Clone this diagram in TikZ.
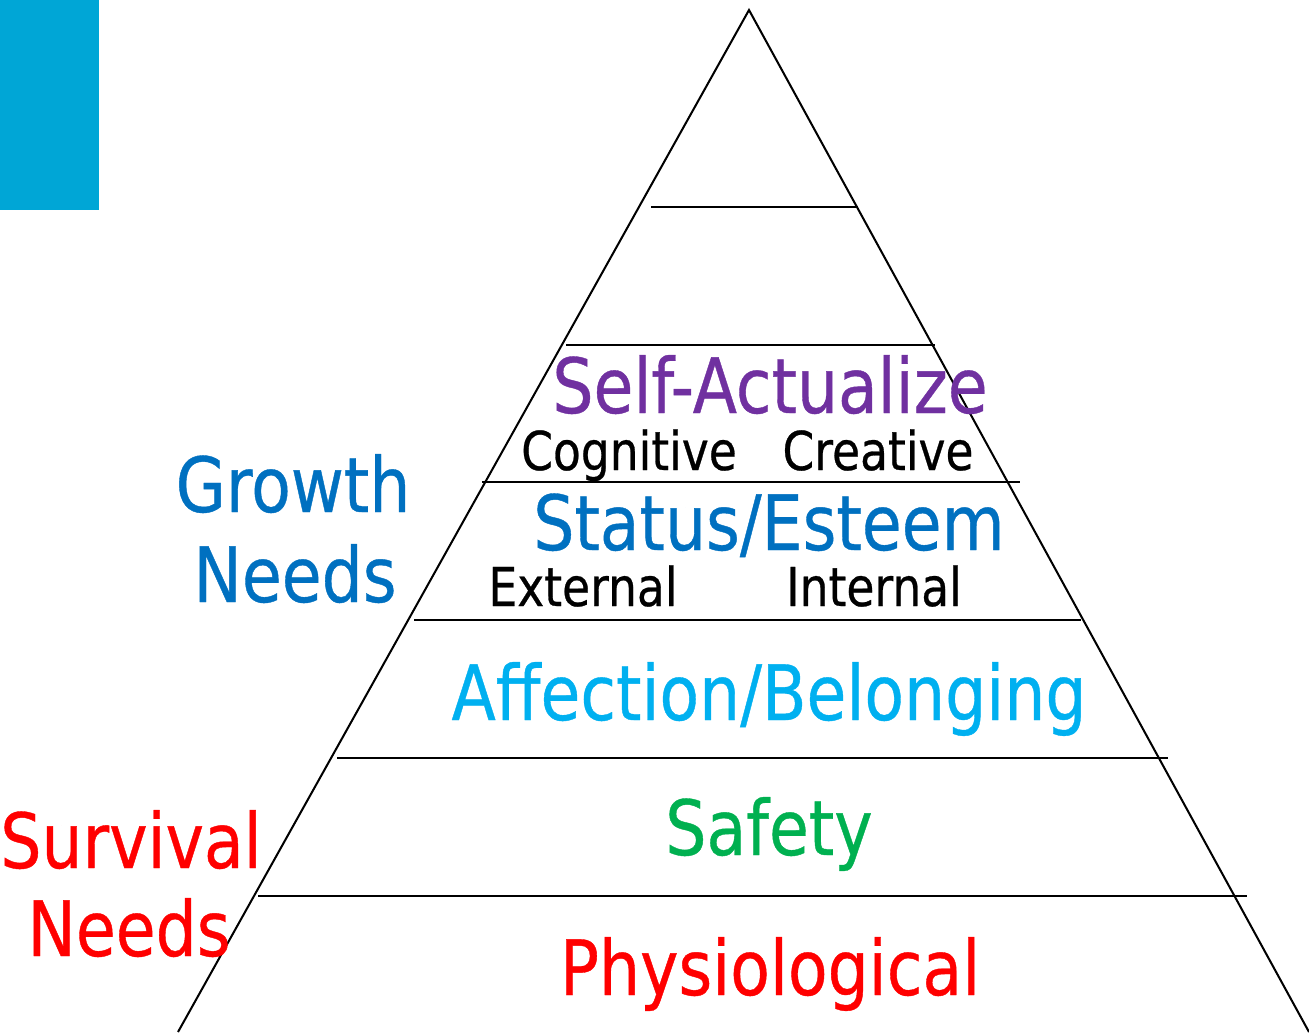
\documentclass[tikz,border=0pt]{standalone}
\usepackage{fontspec}
\setmainfont{DejaVu Sans}[FakeStretch=0.85,FakeBold=0.5]
\usepackage{tikz}
\usetikzlibrary{positioning}
\definecolor{tabblue}{RGB}{0,166,214}
\definecolor{selfpurple}{RGB}{112,48,160}
\definecolor{esteemblue}{RGB}{0,112,192}
\definecolor{affblue}{RGB}{0,176,240}
\definecolor{safegreen}{RGB}{0,176,80}
\definecolor{survred}{RGB}{255,0,0}
\begin{document}
\begin{tikzpicture}[x=0.02cm,y=-0.02cm, big/.style={inner sep=0pt,anchor=base,font=\fontsize{43.4}{50}\selectfont},small/.style={inner sep=0pt,anchor=base,font=\fontsize{30.5}{36}\selectfont},rung/.style={line width=1.15pt}]
                      \useasboundingbox (0,0) rectangle (1309,1032);
                      \fill[tabblue] (0,0) rectangle (99,210);

                      \coordinate (top) at (749,10);
                      \coordinate (bl) at (178,1032);
                      \coordinate (br) at (1309,1032);
                      \draw[line width=1.15pt] (bl) -- (top) -- (br);

                      \draw[rung] (651,207) -- (858,207);
                      \draw[rung] (566,345) -- (935,345);
                      \draw[rung] (482,482) -- (1020,482);
                      \draw[rung] (414,620) -- (1081,620);
                      \draw[rung] (337,758) -- (1168,758);
                      \draw[rung] (258,896) -- (1247,896);

                      \node[big,selfpurple] (self) at (770,413) {Self-Actualize};
                      \node[small] (cog) at (629,470) {Cognitive};
                      \node[small] (cre) at (878,470) {Creative};
                      \node[big,esteemblue] (esteem) at (769,550) {Status/Esteem};
                      \node[small] (ext) at (583,606) {External};
                      \node[small] (int) at (874,606) {Internal};
                      \node[big,affblue] (aff) at (769,720) {Affection/Belonging};
                      \node[big,safegreen] (safe) at (769,855) {Safety};
                      \node[big,survred] (phys) at (770,995) {Physiological};

                      \node[big,esteemblue] (growth) at (293,512) {Growth};
                      \node[big,esteemblue] (gneeds) at (295,602) {Needs};
                      \node[big,survred] (surv) at (131,868) {Survival};
                      \node[big,survred] (sneeds) at (129,956) {Needs};
                    \end{tikzpicture}
\end{document}
